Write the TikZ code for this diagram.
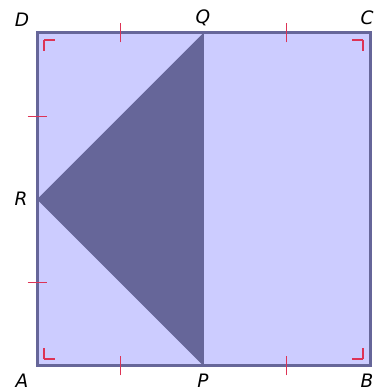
\documentclass[tikz,border=0pt]{standalone}
\usepackage{fontspec}
\setmainfont{DejaVu Sans}
\definecolor{sqfill}{HTML}{CCCCFF}
\definecolor{sqline}{HTML}{666699}
\definecolor{tick}{HTML}{DD3355}
\begin{document}
\begin{tikzpicture}[x=1pt,y=1pt,
	lbl/.style={font=\fontsize{18.5}{20}\selectfont\itshape},
	tickmark/.style={tick,line width=1.1pt},
	anglemark/.style={tick,line width=1.1pt}]
			\useasboundingbox (0,0) rectangle (378,392);
			\coordinate (A) at (37,26);
			\coordinate (B) at (370,26);
			\coordinate (C) at (370,359);
			\coordinate (D) at (37,359);
			\coordinate (P) at (203.5,26);
			\coordinate (Q) at (203.5,359);
			\coordinate (R) at (37,192.5);
			\fill[sqfill] (A) -- (B) -- (C) -- (D) -- cycle;
			\fill[sqline] (Q) -- (R) -- (P) -- cycle;
			\draw[sqline, line width=1pt] (P) -- (Q);
			\draw[sqline, line width=3pt] (A) -- (B) -- (C) -- (D) -- cycle;
			\foreach \x in {120.25,286.75} {
				\draw[tickmark] (\x,16.5) -- (\x,35.5);
				\draw[tickmark] (\x,349.5) -- (\x,368.5);
			}
			\foreach \y in {109.25,275.75}
				\draw[tickmark] (27.5,\y) -- (46.5,\y);
			\draw[anglemark] (44,33) -- (44,44);
			\draw[anglemark] (44,33) -- (55,33);
			\draw[anglemark] (363,33) -- (363,44);
			\draw[anglemark] (363,33) -- (352,33);
			\draw[anglemark] (363,352) -- (363,341);
			\draw[anglemark] (363,352) -- (352,352);
			\draw[anglemark] (44,352) -- (44,341);
			\draw[anglemark] (44,352) -- (55,352);
			\node[lbl] (lA) at (22,11) {A};
			\node[lbl] (lB) at (367,11) {B};
			\node[lbl] (lC) at (367,374) {C};
			\node[lbl] (lD) at (22,372) {D};
			\node[lbl] (lP) at (203,11) {P};
			\node[lbl] (lQ) at (203,374) {Q};
			\node[lbl] (lR) at (21,193) {R};
			\end{tikzpicture}
\end{document}
